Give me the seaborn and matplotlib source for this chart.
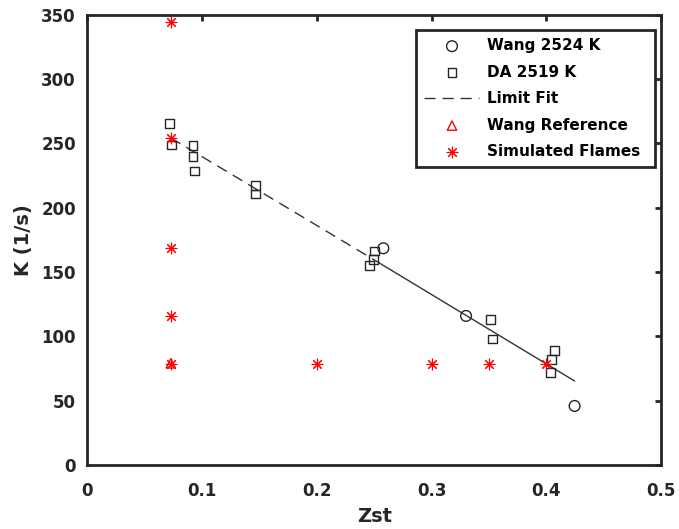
import matplotlib
matplotlib.use("Agg")
import matplotlib.pyplot as plt
import seaborn as sns

# ---- data ----
wang_x = [0.258, 0.330, 0.4245]
wang_y = [168.5, 115.9, 45.9]

da_x = [0.072, 0.0735, 0.0923, 0.0923, 0.0935, 0.1468, 0.1468,
        0.2506, 0.2494, 0.2463, 0.351, 0.3532, 0.407, 0.4047, 0.4033]
da_y = [265.2, 248.8, 248.3, 239.7, 228.6, 217.2, 210.7,
        166.4, 160.0, 155.0, 113.3, 98.0, 88.9, 82.2, 72.1]

fit_dash_x = [0.073, 0.25]
fit_dash_y = [254.3, 159.5]
fit_solid_x = [0.25, 0.4245]
fit_solid_y = [159.5, 65.3]

ref_x = [0.073]
ref_y = [79.0]

sim_x = [0.073, 0.073, 0.073, 0.073, 0.073, 0.2, 0.3, 0.35, 0.4]
sim_y = [344.5, 254.3, 168.7, 115.9, 78.5, 78.5, 78.5, 78.5, 78.5]

xticks = [0, 0.1, 0.2, 0.3, 0.4, 0.5]
xticklabels = ["0", "0.1", "0.2", "0.3", "0.4", "0.5"]
yticks = [0, 50, 100, 150, 200, 250, 300, 350]

# ---- style ----
sns.set_style("white")
plt.rcParams["font.family"] = ["DejaVu Sans"]
plt.rcParams["font.weight"] = "bold"

fig = plt.figure(figsize=(6.79, 5.29), dpi=100)
ax = fig.add_axes([0.128, 0.121, 0.846, 0.851])

axc = "#262626"

sns.scatterplot(x=wang_x, y=wang_y, ax=ax, marker="o", s=60,
                facecolor="none", edgecolor=axc, linewidth=1.0,
                label="Wang 2524 K", zorder=3)
sns.scatterplot(x=da_x, y=da_y, ax=ax, marker="s", s=40,
                facecolor="none", edgecolor=axc, linewidth=1.0,
                label="DA 2519 K", zorder=3)
sns.lineplot(x=fit_dash_x, y=fit_dash_y, ax=ax, color="#333333",
             linewidth=1.0, linestyle=(0, (8, 5)), label="Limit Fit", zorder=2)
sns.scatterplot(x=ref_x, y=ref_y, ax=ax, marker="^", s=45,
                facecolor="none", edgecolor="red", linewidth=1.0,
                label="Wang Reference", zorder=4)
sns.scatterplot(x=sim_x, y=sim_y, ax=ax, marker=(8, 2, 0), s=60,
                color="red", edgecolor="red", linewidth=0.8,
                label="Simulated Flames", zorder=5)
sns.lineplot(x=fit_solid_x, y=fit_solid_y, ax=ax, color="#333333",
             linewidth=1.0, linestyle="-", label="_nolegend_", zorder=2)

ax.set_xlim(0, 0.5)
ax.set_ylim(0, 350)
ax.set_xticks(xticks)
ax.set_xticklabels(xticklabels)
ax.set_yticks(yticks)

for s in ax.spines.values():
    s.set_visible(True)
    s.set_color(axc)
    s.set_linewidth(2.0)

ax.tick_params(direction="in", length=4, width=2, color=axc,
               top=True, right=True, labelsize=12, labelcolor=axc)
ax.tick_params(axis="y", pad=8)
ax.tick_params(axis="x", pad=12)
for lab in ax.get_xticklabels() + ax.get_yticklabels():
    lab.set_fontweight("bold")

ax.set_xlabel("Zst", fontsize=14, fontweight="bold", color=axc, labelpad=5)
ax.set_ylabel("K (1/s)", fontsize=14, fontweight="bold", color=axc, labelpad=6)

leg = ax.legend(loc="upper left", bbox_to_anchor=(0.573, 0.0, 0.4165, 0.9667),
                mode="expand", borderaxespad=0,
                fancybox=False, framealpha=1, edgecolor=axc,
                prop={"weight": "bold", "size": 11},
                handlelength=3.6, labelspacing=0.75, borderpad=0.55,
                handletextpad=0.5)
leg.get_frame().set_linewidth(2.0)
for t in leg.get_texts():
    t.set_color("black")

fig.savefig("out.png", dpi=100)
